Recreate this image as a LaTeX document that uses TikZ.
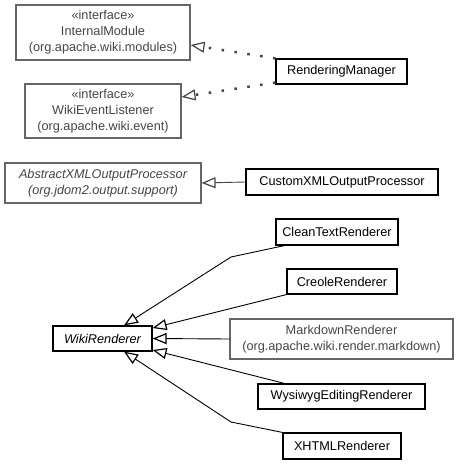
\documentclass[tikz,border=0pt]{standalone}
\usepackage{fontspec}
\setmainfont{Liberation Sans}
\usepackage{tikz}
\usetikzlibrary{arrows.meta}
\usetikzlibrary{positioning}
\definecolor{mgray}{rgb}{0.4, 0.4, 0.4}
\definecolor{tgray}{rgb}{0.27, 0.27, 0.27}
\tikzset{cls/.style = {draw, line width=1.2pt, inner sep=0pt, align=center,
                       font=\fontsize{12.7}{16}\selectfont},
         ext/.style = {cls, draw=mgray, text=tgray},
         inh/.style = {line width=0.9pt, -{Triangle[open, length=14pt, width=11pt, line width=1.2pt]}},
         impl/.style = {inh, dash pattern=on 2.5pt off 10.5pt, line width=2.5pt, tgray}}

\begin{document}
\begin{tikzpicture}[x=1pt, y=-1pt]
    \useasboundingbox (0, 0) rectangle (459, 464);

    \node [ext, minimum width=174pt, minimum height=55pt] (im) at (103, 32.5) {«interface»\\InternalModule\\(org.apache.wiki.modules)};
    \node [cls, minimum width=131pt, minimum height=25pt] (rm) at (341.5, 71.5) {RenderingManager};
    \node [ext, minimum width=156pt, minimum height=54pt] (wel) at (103, 111) {«interface»\\WikiEventListener\\(org.apache.wiki.event)};

    \node [ext, minimum width=196pt, minimum height=40pt, font=\fontsize{12.7}{16}\selectfont\itshape] (axml) at (103, 183) {AbstractXMLOutputProcessor\\(org.jdom2.output.support)};
    \node [cls, minimum width=192pt, minimum height=26pt] (cxml) at (342, 182) {CustomXMLOutputProcessor};

    \node [cls, minimum width=122pt, minimum height=26pt] (ct) at (337, 232) {CleanTextRenderer};
    \node [cls, minimum width=110pt, minimum height=25pt] (cr) at (342, 281.5) {CreoleRenderer};
    \node [cls, minimum width=99pt, minimum height=25pt, font=\fontsize{12.7}{16}\selectfont\itshape] (wr) at (102.5, 338.5) {WikiRenderer};
    \node [ext, minimum width=223pt, minimum height=40pt] (md) at (341.5, 339) {MarkdownRenderer\\(org.apache.wiki.render.markdown)};
    \node [cls, minimum width=167pt, minimum height=25pt] (wy) at (341.5, 396.5) {WysiwygEditingRenderer};
    \node [cls, minimum width=118pt, minimum height=26pt] (xh) at (342, 446) {XHTMLRenderer};

    \coordinate (ctbend) at (231, 257);
    \coordinate (xhbend) at (231, 422);

    \draw [impl] (rm.north west) -- ([yshift=-12.5pt]im.east);
    \draw [impl] ([yshift=2pt]rm.south west) -- ([yshift=14pt]wel.east);
    \draw [inh, tgray] (cxml.west) -- (axml.east);

    \draw [inh] ([xshift=9pt]ct.south west) -- (ctbend) -- ([xshift=21.5pt]wr.north);
    \draw [inh] (cr.south west) -- ([yshift=10.5pt]wr.east);
    \draw [inh] (md.west) -- (wr.east);
    \draw [inh] ([xshift=27pt]wy.north west) -- ([yshift=-11.5pt]wr.east);
    \draw [inh] (xh.north west) -- (xhbend) -- ([xshift=21.5pt]wr.south);
\end{tikzpicture}
\end{document}
